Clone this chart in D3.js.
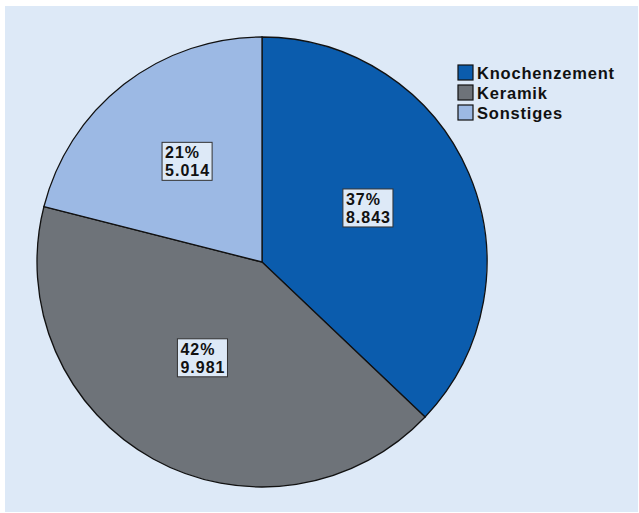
<!DOCTYPE html>
<html>
<head>
<meta charset="utf-8">
<script src="https://cdn.jsdelivr.net/npm/d3@7"></script>
<style>
  body { margin: 0; background: #fff; }
  svg text { font-family: "Liberation Sans", Arial, Helvetica, sans-serif; font-weight: bold; }
</style>
</head>
<body>
<div id="chart"></div>
<script>
const categories = ["Knochenzement", "Keramik", "Sonstiges"];
const values = [8843, 9981, 5014];
const percentLabels = ["37%", "42%", "21%"];
const valueLabels = ["8.843", "9.981", "5.014"];
const colors = ["#0b5cad", "#6e7379", "#9cb9e4"];

const width = 639, height = 513;
const cx = 262, cy = 262, radius = 225;

const svg = d3.select("#chart").append("svg")
  .attr("width", width)
  .attr("height", height);

// panel background
svg.append("rect")
  .attr("x", 5).attr("y", 6)
  .attr("width", 633).attr("height", 506)
  .attr("fill", "#dde9f7");

const data = categories.map((c, i) => ({
  name: c, value: values[i], pct: percentLabels[i], label: valueLabels[i], color: colors[i]
}));

const pie = d3.pie().sort(null).value(d => d.value);
const arc = d3.arc().innerRadius(0).outerRadius(radius);
const labelArc = d3.arc().innerRadius(236).outerRadius(0);

const g = svg.append("g").attr("transform", `translate(${cx},${cy})`);
const arcs = pie(data);

g.selectAll("path.slice")
  .data(arcs)
  .join("path")
  .attr("class", "slice")
  .attr("d", arc)
  .attr("fill", d => d.data.color)
  .attr("stroke", "#111")
  .attr("stroke-width", 1.3);

// labels in boxes (nudged up a bit, like the original)
const labelLayer = g.append("g").attr("transform", "translate(-2,-7)");
const labels = labelLayer.selectAll("g.lbl")
  .data(arcs)
  .join("g")
  .attr("class", "lbl")
  .attr("transform", d => {
    const [x, y] = labelArc.centroid(d);
    return `translate(${x},${y})`;
  });

labels.each(function(d) {
  const lg = d3.select(this);
  const rect = lg.append("rect");
  const t = lg.append("text")
    .attr("font-size", 16)
    .attr("letter-spacing", 1)
    .attr("fill", "#111");
  t.append("tspan").attr("x", 0).attr("y", -5).text(d.data.pct);
  t.append("tspan").attr("x", 0).attr("y", 13).text(d.data.label);
  const bb = t.node().getBBox();
  const dx = -bb.x - bb.width / 2, dy = -bb.y - bb.height / 2;
  t.attr("transform", `translate(${dx},${dy})`);
  rect.attr("x", -bb.width / 2 - 3)
    .attr("y", -bb.height / 2 - 2)
    .attr("width", bb.width + 5)
    .attr("height", bb.height + 3)
    .attr("fill", "#dde9f7")
    .attr("stroke", "#333")
    .attr("stroke-width", 1);
});

// legend
const legend = svg.append("g").attr("transform", "translate(458,65)");
const items = legend.selectAll("g")
  .data(data)
  .join("g")
  .attr("transform", (d, i) => `translate(0,${i * 20})`);

items.append("rect")
  .attr("width", 15).attr("height", 15)
  .attr("fill", d => d.color)
  .attr("stroke", "#111")
  .attr("stroke-width", 1.2);

items.append("text")
  .attr("x", 19)
  .attr("y", 14)
  .attr("font-size", 16.5)
  .attr("letter-spacing", 0.8)
  .attr("fill", "#111")
  .text(d => d.name);
</script>
</body>
</html>
